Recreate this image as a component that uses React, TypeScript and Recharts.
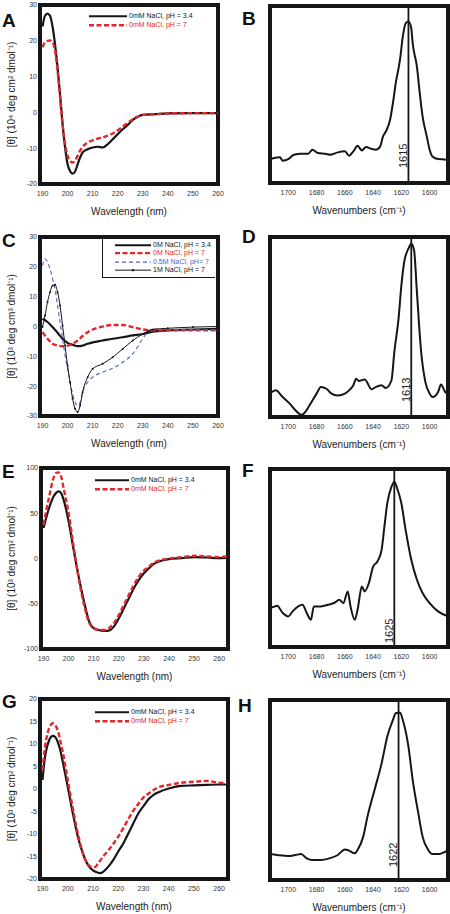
import { LineChart, Line, XAxis, YAxis, ReferenceLine, ReferenceArea } from 'recharts';

const FONT = '"Liberation Sans", Arial, sans-serif';
const INK = '#161616';
const RED = '#e3262d';
const BLUE = '#4b63c9';

// ---- CD spectra (x = wavelength nm) ----
const aWavelength = [190, 191, 192, 193, 194, 195, 196, 197, 198, 199, 200, 201, 202, 203, 204, 205, 206, 208, 210, 212, 214, 216, 218, 220, 222, 224, 226, 228, 230, 235, 240, 250, 260];
const aPh34 = [24, 27, 27.6, 27, 24, 19, 12.6, 5, -3.3, -9.8, -14.5, -16.4, -17.1, -16.5, -14.5, -12.6, -11.2, -10.3, -9.8, -9.6, -9.8, -8.9, -7.5, -6.1, -4.7, -3.5, -2.1, -1.2, -0.7, -0.5, -0.3, -0.2, -0.2];
const aPh7 = [18.2, 19.6, 20, 20.1, 19.6, 17.3, 11.7, 4.2, -3.3, -8.9, -12.1, -13.5, -14, -13.5, -12.1, -10.7, -9.6, -8.4, -7.8, -7.3, -7, -6.5, -5.9, -5, -4, -2.9, -1.9, -1.2, -0.7, -0.5, -0.3, -0.2, -0.2];

const cWlCoarse = [190, 192, 194, 196, 198, 200, 202, 204, 206, 208, 210, 214, 218, 222, 226, 230, 234, 240, 250, 260];
const c0mPh34 = [2.6, 1.5, -0.2, -2.1, -4.1, -5.5, -6.1, -6.6, -6.4, -5.8, -5.3, -4.7, -4.1, -3.6, -3, -2.5, -1.7, -1.3, -1, -0.8];
const c0mPh7 = [-1.9, -4.1, -5.8, -6.4, -6.6, -6.4, -5.8, -4.7, -3.2, -1.9, -1, 0, 0.5, 0.5, -0.2, -1, -1.3, -1.3, -1.3, -1.3];
const cWlFine = [190, 191, 192, 193, 194, 195, 196, 197, 198, 199, 200, 201, 202, 203, 204, 205, 206, 208, 210, 214, 218, 222, 226, 230, 232, 234, 240, 250, 260];
const c05m = [20.4, 22.7, 21.6, 19.3, 16, 12.6, 7, 1.5, -4.1, -9.7, -14.2, -18.7, -22.6, -25.4, -26.5, -25.4, -22, -18.7, -17, -15.3, -14, -12, -9.2, -4.1, -1.7, -0.8, -1, -1.1, -1.3];
const c1m = [-0.2, 3.7, 8.2, 11.5, 13.7, 14, 11.5, 7, 0.3, -6.4, -13.1, -18.7, -24.2, -27.6, -28.7, -26.5, -22, -17, -14.2, -12.5, -10.3, -7.5, -4.7, -2.5, -1.6, -1, -0.6, -0.2, 0];

const eWavelength = [190, 192, 194, 195, 196, 197, 198, 200, 202, 204, 206, 208, 210, 212, 214, 216, 218, 220, 222, 224, 226, 228, 230, 232, 234, 236, 240, 245, 250, 255, 260, 263];
const ePh34 = [33.6, 53.9, 68.6, 72.5, 74.2, 72.3, 65, 41, 9.6, -20, -45.8, -68, -77, -79, -80, -79.7, -75.3, -66, -55, -44, -32.8, -23.6, -16.2, -10.7, -5.9, -3.3, -0.7, 0.4, 1.5, 1.1, 0.4, 0.7];
const ePh7 = [37.3, 65, 89, 94.5, 95.2, 90.8, 77.9, 50.2, 13.3, -21.8, -49.4, -69.7, -77, -79, -79, -77, -71.6, -62.4, -51.3, -40.2, -29.2, -19.9, -13.3, -8.9, -4.4, -2.2, 0, 1.5, 3, 2.2, 1.5, 2.2];

const gWavelength = [190, 191, 192, 193, 194, 195, 196, 197, 198, 200, 202, 204, 206, 208, 210, 211, 212, 213, 214, 216, 218, 220, 222, 224, 226, 228, 230, 232, 234, 236, 240, 245, 250, 255, 260, 263];
const gPh34 = [2, 7.2, 9.8, 11.3, 11.8, 11.6, 10.5, 8.7, 6.1, 0.5, -5.4, -10.6, -14.3, -16.9, -18.1, -18.4, -18.6, -18.7, -18.4, -17.3, -15.8, -13.9, -12.1, -9.9, -7.6, -5.4, -3.8, -2.3, -1.3, -0.7, 0.1, 0.7, 0.8, 0.9, 1, 1];
const gPh7 = [4.2, 9.4, 12.4, 14, 14.6, 14.2, 13.1, 10.9, 8.3, 2, -4.3, -9.9, -14.3, -16.7, -17.4, -17.3, -16.5, -15.8, -15, -13.7, -12.2, -10.6, -8.7, -6.7, -4.8, -3.3, -1.9, -1, -0.2, 0.4, 0.9, 1.4, 1.6, 1.8, 1.4, 1.3];

// ---- FTIR spectra (x = wavenumber cm-1, y = normalised absorbance) ----
const bWavenumber = [1713, 1710, 1706, 1704, 1700, 1696, 1691, 1686, 1683, 1679, 1674, 1670, 1665, 1660, 1657, 1654, 1651, 1648, 1645, 1641, 1638, 1635, 1633, 1631, 1628, 1626, 1624, 1621, 1619, 1617, 1615, 1613, 1612, 1609, 1607, 1605, 1602, 1600, 1598, 1594, 1588];
const bAbs = [0.135, 0.141, 0.145, 0.126, 0.135, 0.16, 0.165, 0.165, 0.188, 0.169, 0.165, 0.16, 0.173, 0.179, 0.154, 0.179, 0.21, 0.184, 0.203, 0.192, 0.188, 0.207, 0.263, 0.291, 0.357, 0.451, 0.564, 0.695, 0.827, 0.902, 0.912, 0.874, 0.789, 0.658, 0.508, 0.376, 0.263, 0.188, 0.15, 0.135, 0.132];
const dWavenumber = [1713, 1709, 1704, 1699, 1695, 1691, 1689, 1685, 1680, 1677, 1673, 1670, 1665, 1660, 1657, 1654, 1652, 1650, 1646, 1641, 1638, 1634, 1631, 1627, 1625, 1622, 1620, 1618, 1615, 1613, 1611, 1609, 1606, 1603, 1600, 1598, 1594, 1592, 1589, 1587];
const dAbs = [0.13, 0.148, 0.111, 0.074, 0.037, 0.013, 0.019, 0.065, 0.13, 0.167, 0.157, 0.133, 0.12, 0.13, 0.148, 0.176, 0.213, 0.2, 0.209, 0.154, 0.167, 0.176, 0.161, 0.204, 0.361, 0.546, 0.731, 0.861, 0.935, 0.963, 0.926, 0.694, 0.361, 0.194, 0.13, 0.111, 0.139, 0.18, 0.139, 0.13];
const fWavenumber = [1713, 1711, 1708, 1704, 1700, 1697, 1693, 1690, 1687, 1684, 1682, 1677, 1672, 1667, 1664, 1661, 1658, 1656, 1653, 1651, 1648, 1646, 1643, 1640, 1637, 1634, 1632, 1630, 1627, 1625, 1623, 1620, 1617, 1613, 1609, 1605, 1600, 1594, 1587];
const fAbs = [0.232, 0.224, 0.232, 0.191, 0.172, 0.2, 0.228, 0.237, 0.191, 0.153, 0.228, 0.228, 0.237, 0.25, 0.265, 0.247, 0.312, 0.228, 0.153, 0.209, 0.34, 0.312, 0.359, 0.452, 0.48, 0.546, 0.677, 0.807, 0.901, 0.929, 0.892, 0.807, 0.658, 0.49, 0.378, 0.303, 0.247, 0.2, 0.172];
const hWavenumber = [1713, 1708, 1700, 1695, 1691, 1687, 1683, 1677, 1671, 1665, 1660, 1657, 1653, 1651, 1647, 1644, 1639, 1634, 1630, 1626, 1624, 1621, 1619, 1615, 1612, 1608, 1605, 1601, 1598, 1593, 1589, 1587];
const hAbs = [0.144, 0.139, 0.133, 0.139, 0.144, 0.12, 0.111, 0.111, 0.12, 0.139, 0.17, 0.163, 0.148, 0.167, 0.241, 0.352, 0.5, 0.648, 0.796, 0.889, 0.926, 0.93, 0.889, 0.741, 0.556, 0.37, 0.241, 0.167, 0.144, 0.144, 0.157, 0.163];

const wavelengthTicks = [190, 200, 210, 220, 230, 240, 250, 260];
const wavenumberTicks = [1700, 1680, 1660, 1640, 1620, 1600];
const irDomain = [1587, 1713];

type Series = { name: string; x: number[]; y: number[]; color: string; width: number; dash?: string; dots?: boolean };

const zip = (x: number[], y: number[]) => x.map((v, i) => ({ x: v, y: y[i] }));

const tickStyle = { fontSize: 7, fill: '#333', fontFamily: FONT };
const titleStyle = { fontSize: 10, fill: '#222', fontFamily: FONT };
// the plot clip hides the outer half of the frame stroke
const FRAME_W = 4;

function CdPanel(props: {
  plotLeft: number; plotRight: number; plotTop: number; plotBottom: number;
  xDomain: number[]; yDomain: number[]; yTicks: number[]; yLabel: string; series: Series[];
}) {
  const { plotLeft, plotRight, plotTop, plotBottom, xDomain, yDomain, yTicks, yLabel, series } = props;
  const mTop = 8;
  const axisH = 34;
  const mRight = 10;
  const width = plotRight + mRight;
  const height = plotBottom - plotTop + mTop + axisH;
  return (
    <div style={{ position: 'absolute', left: 0, top: plotTop - mTop }}>
      <LineChart width={width} height={height} margin={{ top: mTop, right: mRight, left: 0, bottom: 0 }}>
        <XAxis dataKey="x" type="number" domain={xDomain} ticks={wavelengthTicks} interval={0} allowDataOverflow
          height={axisH} axisLine={false} tickLine={false} tickSize={4} tickMargin={3} tick={tickStyle}
          label={{ value: 'Wavelength (nm)', position: 'insideBottom', offset: 3, style: titleStyle }} />
        <YAxis type="number" domain={yDomain} ticks={yTicks} interval={0} allowDataOverflow width={plotLeft}
          axisLine={false} tickLine={{ stroke: INK }} tickSize={2} tickMargin={1} tick={tickStyle}
          label={{ value: yLabel, angle: -90, position: 'insideLeft', offset: 11, style: { ...titleStyle, textAnchor: 'middle' } }} />
        <ReferenceArea x1={xDomain[0]} x2={xDomain[1]} y1={yDomain[0]} y2={yDomain[1]} fill="none"
          stroke={INK} strokeWidth={FRAME_W} ifOverflow="visible" />
        {series.map((s) => (
          <Line key={s.name} data={zip(s.x, s.y)} dataKey="y" type="monotone" stroke={s.color} strokeWidth={s.width}
            strokeDasharray={s.dash} dot={s.dots ? { r: 1, fill: s.color, stroke: 'none' } : false}
            isAnimationActive={false} />
        ))}
      </LineChart>
    </div>
  );
}

const peakLabel = (text: string, gap: number) => (p: any) => {
  const vb = p.viewBox || {};
  const x = vb.x - 1.5;
  const y = vb.y + vb.height - gap;
  return (
    <text x={x} y={y} transform={`rotate(-90 ${x} ${y})`} fontSize={11} fontFamily={FONT} fill="#222">{text}</text>
  );
};

function IrPanel(props: { plotTop: number; plotBottom: number; x: number[]; y: number[]; peak: number; peakText: string; gap: number }) {
  const { plotTop, plotBottom, x, y, peak, peakText, gap } = props;
  const mTop = 8;
  const axisH = 34;
  const height = plotBottom - plotTop + mTop + axisH;
  return (
    <div style={{ position: 'absolute', left: 225, top: plotTop - mTop }}>
      <LineChart width={225} height={height} margin={{ top: mTop, right: 2, left: 45, bottom: 0 }}>
        <XAxis dataKey="x" type="number" domain={irDomain} reversed ticks={wavenumberTicks} interval={0} allowDataOverflow
          height={axisH} axisLine={false} tickLine={false} tickSize={4} tickMargin={3} tick={tickStyle}
          label={{ value: 'Wavenumbers (cm⁻¹)', position: 'insideBottom', offset: 3, style: titleStyle }} />
        <YAxis type="number" domain={[0, 1]} width={0} tick={false} tickLine={false} axisLine={false} />
        <ReferenceArea x1={irDomain[0]} x2={irDomain[1]} y1={0} y2={1} fill="none"
          stroke={INK} strokeWidth={FRAME_W} ifOverflow="visible" />
        <ReferenceLine segment={[{ x: peak, y: 0 }, { x: peak, y: 1 }]} stroke={INK} strokeWidth={1.8}
          label={peakLabel(peakText, gap)} />
        <Line data={zip(x, y)} dataKey="y" type="monotone" stroke={INK} strokeWidth={2} dot={false} isAnimationActive={false} />
      </LineChart>
    </div>
  );
}

type KeyItem = { label: string; color: string; width: number; dash?: string; dots?: boolean };

function KeyBox({ left, top, lineW, rowH, items, framed }: { left: number; top: number; lineW: number; rowH: number; items: KeyItem[]; framed?: boolean }) {
  return (
    <div style={{
      position: 'absolute', left, top, fontFamily: FONT, fontSize: 7, lineHeight: `${rowH}px`,
      borderLeft: framed ? `1px solid ${INK}` : 'none', borderBottom: framed ? `1px solid ${INK}` : 'none',
      paddingLeft: framed ? 12 : 0, paddingRight: framed ? 4 : 0, paddingTop: framed ? 4 : 0, paddingBottom: framed ? 3 : 0,
    }}>
      {items.map((it) => (
        <div key={it.label} style={{ display: 'flex', alignItems: 'center', height: rowH, whiteSpace: 'nowrap' }}>
          <svg width={lineW} height={rowH} style={{ marginRight: 2 }}>
            <line x1={0} x2={lineW} y1={rowH / 2} y2={rowH / 2} stroke={it.color} strokeWidth={it.width} strokeDasharray={it.dash} />
            {it.dots && <circle cx={lineW / 2} cy={rowH / 2} r={1.2} fill={it.color} />}
          </svg>
          <span style={{ color: it.color }}>{it.label}</span>
        </div>
      ))}
    </div>
  );
}

const letters = [
  { t: 'A', x: 2, y: 27 }, { t: 'B', x: 242, y: 25 },
  { t: 'C', x: 2, y: 247 }, { t: 'D', x: 242, y: 243 },
  { t: 'E', x: 2, y: 478 }, { t: 'F', x: 242, y: 477 },
  { t: 'G', x: 2, y: 708 }, { t: 'H', x: 238, y: 712 },
];

const pairKey = (a: string, b: string): KeyItem[] => [
  { label: a, color: INK, width: 2 },
  { label: b, color: RED, width: 2.4, dash: '5 2.5' },
];

export default function App() {
  return (
    <div style={{ position: 'absolute', left: 0, top: 0, width: 450, height: 914, background: '#fff', overflow: 'hidden' }}>
      <svg width={450} height={914} style={{ position: 'absolute', left: 0, top: 0 }}>
        {letters.map((l) => (
          <text key={l.t} x={l.x} y={l.y} fontSize={19} fontWeight="bold" fontFamily={FONT} fill="#111">{l.t}</text>
        ))}
      </svg>

      <CdPanel plotLeft={40} plotRight={218} plotTop={5} plotBottom={184} xDomain={[189, 260]} yDomain={[-20, 30]}
        yTicks={[-20, -10, 0, 10, 20, 30]} yLabel="[θ] (10⁴ deg cm² dmol⁻¹)"
        series={[
          { name: 'a34', x: aWavelength, y: aPh34, color: INK, width: 2.2 },
          { name: 'a7', x: aWavelength, y: aPh7, color: RED, width: 2.4, dash: '5 2.5' },
        ]} />
      <KeyBox left={89} top={12} lineW={38} rowH={8.5} items={pairKey('0mM NaCl, pH = 3.4', '0mM NaCl, pH = 7')} />

      <IrPanel plotTop={6} plotBottom={183} x={bWavenumber} y={bAbs} peak={1615} peakText="1615" gap={15} />

      <CdPanel plotLeft={40} plotRight={218} plotTop={237} plotBottom={416} xDomain={[189, 260]} yDomain={[-30, 30]}
        yTicks={[-30, -20, -10, 0, 10, 20, 30]} yLabel="[θ] (10³ deg cm³ dmol⁻¹)"
        series={[
          { name: 'c34', x: cWlCoarse, y: c0mPh34, color: INK, width: 2.2 },
          { name: 'c7', x: cWlCoarse, y: c0mPh7, color: RED, width: 2.4, dash: '5 2.5' },
          { name: 'c05', x: cWlFine, y: c05m, color: BLUE, width: 1.1, dash: '4 3' },
          { name: 'c1', x: cWlFine, y: c1m, color: INK, width: 1, dots: true },
        ]} />
      <KeyBox left={102} top={237} lineW={36} rowH={8.3} framed items={[
        { label: '0M NaCl, pH = 3.4', color: INK, width: 2 },
        { label: '0M NaCl, pH = 7', color: RED, width: 2.4, dash: '5 2.5' },
        { label: '0.5M NaCl, pH= 7', color: BLUE, width: 1.1, dash: '4 3' },
        { label: '1M NaCl, pH = 7', color: INK, width: 1, dots: true },
      ]} />

      <IrPanel plotTop={237} plotBottom={417} x={dWavenumber} y={dAbs} peak={1613} peakText="1613" gap={15} />

      <CdPanel plotLeft={41} plotRight={228} plotTop={468} plotBottom={649} xDomain={[189, 263.5]} yDomain={[-100, 100]}
        yTicks={[-100, -50, 0, 50, 100]} yLabel="[θ] (10³ deg cm² dmol⁻¹)"
        series={[
          { name: 'e34', x: eWavelength, y: ePh34, color: INK, width: 2.2 },
          { name: 'e7', x: eWavelength, y: ePh7, color: RED, width: 2.4, dash: '5 2.5' },
        ]} />
      <KeyBox left={95} top={476} lineW={34} rowH={8.5} items={pairKey('0mM NaCl, pH = 3.4', '0mM NaCl, pH = 7')} />

      <IrPanel plotTop={469} plotBottom={647} x={fWavenumber} y={fAbs} peak={1625} peakText="1625" gap={4} />

      <CdPanel plotLeft={40} plotRight={228} plotTop={699} plotBottom={879} xDomain={[189, 263.5]} yDomain={[-20, 20]}
        yTicks={[-20, -15, -10, -5, 0, 5, 10, 15, 20]} yLabel="[θ] (10³ deg cm² dmol⁻¹)"
        series={[
          { name: 'g34', x: gWavelength, y: gPh34, color: INK, width: 2.2 },
          { name: 'g7', x: gWavelength, y: gPh7, color: RED, width: 2.4, dash: '5 2.5' },
        ]} />
      <KeyBox left={95} top={708} lineW={34} rowH={8.5} items={pairKey('0mM NaCl, pH = 3.4', '0mM NaCl, pH = 7')} />

      <IrPanel plotTop={700} plotBottom={880} x={hWavenumber} y={hAbs} peak={1622} peakText="1622" gap={13} />
    </div>
  );
}
